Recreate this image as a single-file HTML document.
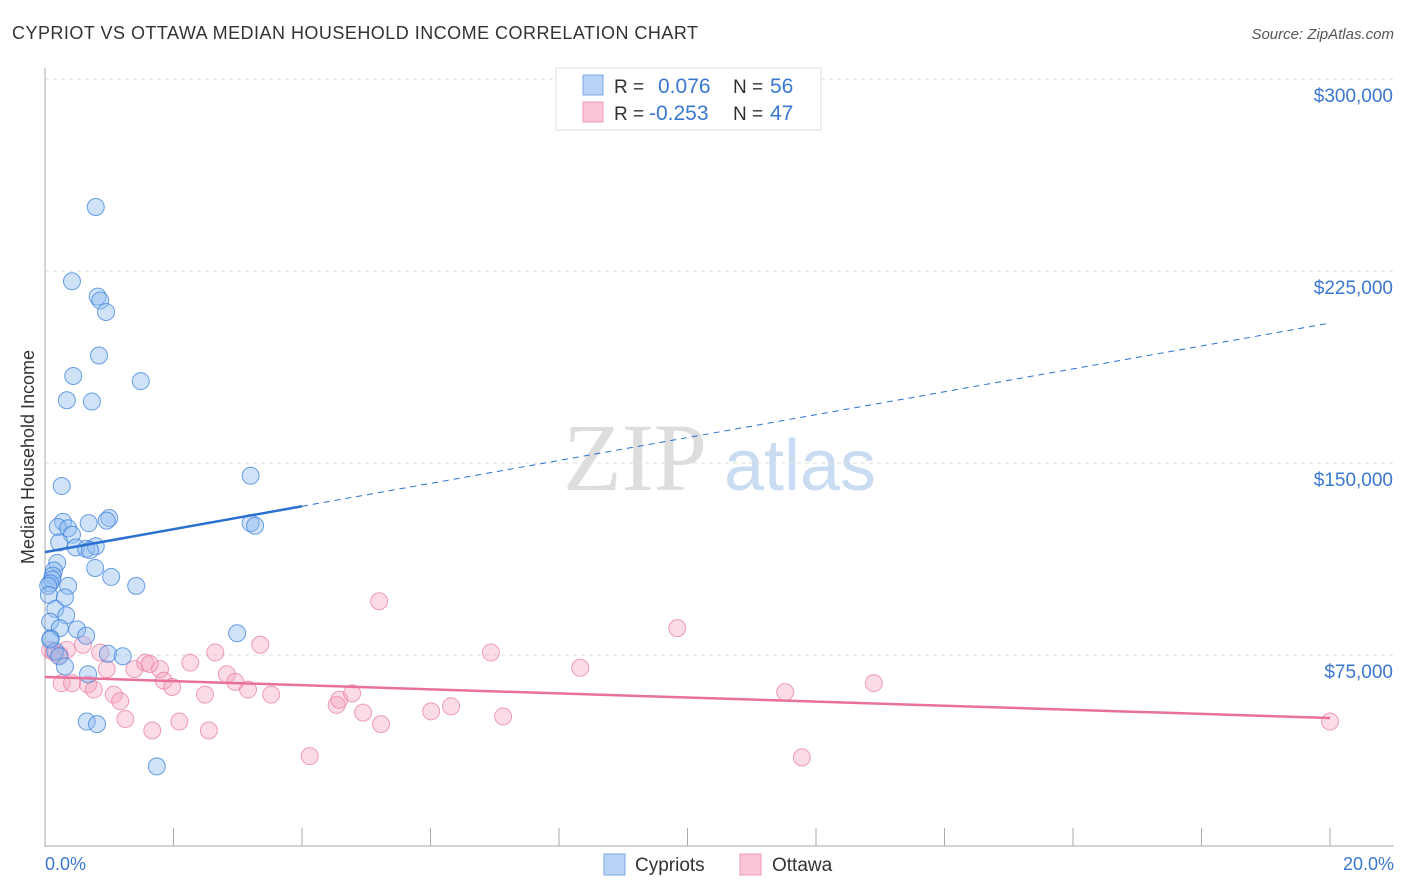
<!DOCTYPE html>
<html><head><meta charset="utf-8"><style>
body{margin:0;background:#fff;font-family:"Liberation Sans",sans-serif;}
svg{display:block}
</style></head><body>
<svg id="chart" width="1406" height="892" xmlns="http://www.w3.org/2000/svg">
<text x="12" y="39" font-size="18" fill="#333" textLength="686">CYPRIOT VS OTTAWA MEDIAN HOUSEHOLD INCOME CORRELATION CHART</text>
<text x="1394" y="39" font-size="15" fill="#555" font-style="italic" text-anchor="end">Source: ZipAtlas.com</text>
<text x="635" y="490" font-size="96" fill="#ddd" font-family="Liberation Serif,serif" text-anchor="middle">ZIP</text>
<text x="800" y="490" font-size="72" fill="#c9dcf2" text-anchor="middle">atlas</text>
<text transform="translate(34,457) rotate(-90)" font-size="18" fill="#333" text-anchor="middle">Median Household Income</text>
<g id="grid"></g><g id="pts"></g><g id="lines"></g>
<g>
<rect x="556" y="68" width="265" height="62" fill="#fff" stroke="#ddd"/>
<rect x="583" y="75" width="20" height="20" fill="#b8d3f5" stroke="#7aaae6"/>
<rect x="583" y="102" width="20" height="20" fill="#fac6d5" stroke="#ee9ab4"/>
<text x="614" y="93" font-size="19" fill="#333">R =</text><text x="658" y="93" font-size="21" fill="#3a78d0">0.076</text>
<text x="733" y="93" font-size="19" fill="#333">N =</text><text x="770" y="93" font-size="21" fill="#3a78d0">56</text>
<text x="614" y="120" font-size="19" fill="#333">R =</text><text x="649" y="120" font-size="21" fill="#3a78d0">-0.253</text>
<text x="733" y="120" font-size="19" fill="#333">N =</text><text x="770" y="120" font-size="21" fill="#3a78d0">47</text>
</g>
<g>
<rect x="604" y="854" width="21" height="21" fill="#b8d3f5" stroke="#7aaae6"/>
<text x="635" y="871" font-size="19" fill="#333">Cypriots</text>
<rect x="740" y="854" width="21" height="21" fill="#fac6d5" stroke="#ee9ab4"/>
<text x="772" y="871" font-size="19" fill="#333">Ottawa</text>
</g>
<text x="45" y="870" font-size="18" fill="#3a78d0">0.0%</text>
<text x="1394" y="870" font-size="18" fill="#3a78d0" text-anchor="end">20.0%</text>
</svg>
<script>
const yTicks=[75000,150000,225000,300000];
const yTickLabels=["$75,000","$150,000","$225,000","$300,000"];
const cypX=[0.79,0.42,0.82,0.86,0.95,0.84,0.44,1.49,0.34,0.73,3.20,0.26,0.28,1.00,0.96,0.68,0.20,0.36,0.42,3.20,3.27,0.22,0.48,0.64,0.79,0.70,0.19,0.14,0.78,0.12,0.11,0.08,1.03,0.05,0.36,1.42,0.06,0.31,0.16,0.33,2.99,0.08,0.50,0.23,0.64,0.09,0.16,0.22,0.98,1.21,0.31,0.67,0.65,0.81,1.74,0.08];
const cypY=[250000,221000,215000,213500,209000,192000,184000,182000,174500,174000,145000,141000,127000,128500,127500,126500,125000,124500,122000,126500,125500,119000,117000,116500,117500,116000,111000,108000,109000,106000,104500,103000,105500,102000,102000,102000,98500,97500,93000,90500,83500,88000,85000,85500,82500,81500,76500,74500,75500,74500,70500,67500,49000,48000,31500,81000];
const ottX=[0.08,0.14,0.23,0.34,0.86,0.59,0.26,0.42,0.67,0.76,1.07,1.17,0.96,1.39,1.56,1.79,1.63,1.85,1.98,2.26,2.65,2.49,2.83,2.96,3.16,3.35,3.52,1.25,1.67,2.09,2.55,4.12,4.54,4.58,4.78,4.95,5.23,5.20,6.01,6.32,6.94,7.13,8.33,9.84,11.52,11.78,12.90,20.00];
const ottY=[77000,76000,75000,77000,76000,79000,64000,64000,63500,61500,59500,57000,69500,69500,72000,69500,71500,65000,62500,72000,76000,59500,67500,64500,61500,79000,59500,50000,45500,49000,45500,35500,55500,57500,60000,52500,48000,96000,53000,55000,76000,51000,70000,85500,60500,35000,64000,49000];
const cypTrend=[115200,4473];
const ottTrend=[66400,-801];
const xMin=0,xMax=20;
const X=v=>45+(v-xMin)/(xMax-xMin)*1285;
const Y=v=>847-v/75000*192;
const NS="http://www.w3.org/2000/svg";
function mk(tag,attrs,parent){const e=document.createElementNS(NS,tag);for(const k in attrs)e.setAttribute(k,attrs[k]);parent.appendChild(e);return e;}
const grid=document.getElementById('grid'),pts=document.getElementById('pts'),lines=document.getElementById('lines');
yTicks.forEach((t,i)=>{
  const g=mk('line',{x1:45,x2:1394,y1:Y(t),y2:Y(t),stroke:'#ddd','stroke-dasharray':'4,4'},grid);
  
  
  const tx=mk('text',{x:1393,y:Y(t)+23,'font-size':19,fill:'#3a78d0','text-anchor':'end'},grid);
  tx.textContent=yTickLabels[i];
  
  
});
const ax=mk('line',{x1:45,x2:45,y1:68,y2:847,stroke:'#aaa'},grid);


const bx=mk('line',{x1:45,x2:1394,y1:846,y2:846,stroke:'#aaa'},grid);


for(let i=0;i<=10;i++){
  const tk=mk('line',{x1:X(i*2),x2:X(i*2),y1:828,y2:846,stroke:'#aaa'},grid);
  
  
}
ottX.forEach((v,i)=>{
  const c=mk('circle',{cx:X(v),cy:Y(ottY[i]),r:8.5,fill:'rgba(245,160,188,0.38)',stroke:'rgba(232,120,160,0.7)','stroke-width':1},pts);
  
  
});
cypX.forEach((v,i)=>{
  const c=mk('circle',{cx:X(v),cy:Y(cypY[i]),r:8.5,fill:'rgba(140,185,238,0.42)',stroke:'rgba(60,130,220,0.75)','stroke-width':1},pts);
  
  
});
const [ca,cb]=cypTrend;const [oa,ob]=ottTrend;
const l1=mk('line',{x1:X(0),y1:Y(ca),x2:X(4),y2:Y(ca+cb*4),stroke:'#2a70d0','stroke-width':2.5},lines);


const l2=mk('line',{x1:X(4),y1:Y(ca+cb*4),x2:X(20),y2:Y(ca+cb*20),stroke:'#2a70d0','stroke-width':1,'stroke-dasharray':'6,5'},lines);


const l3=mk('line',{x1:X(0),y1:Y(oa),x2:X(20),y2:Y(oa+ob*20),stroke:'#e8709a','stroke-width':2.5},lines);


</script>
</body></html>
